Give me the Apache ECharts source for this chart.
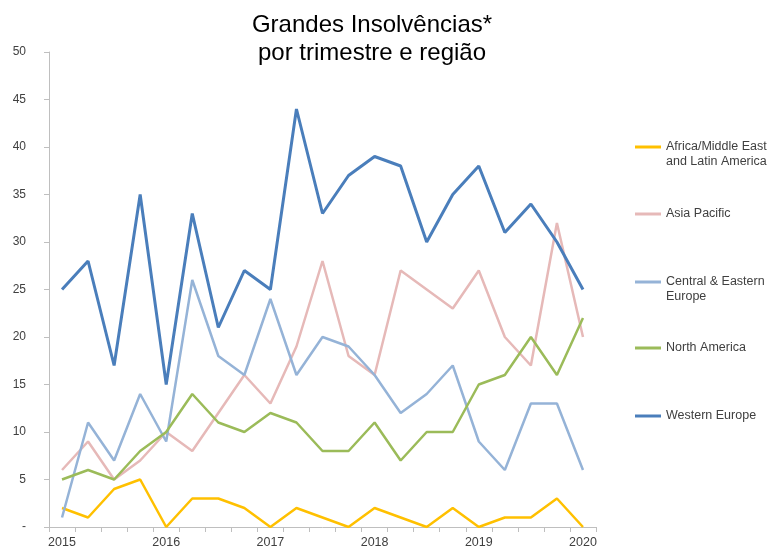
<!DOCTYPE html>
<html>
<head>
<meta charset="utf-8">
<script src="https://cdn.jsdelivr.net/npm/echarts@6/dist/echarts.min.js"></script>
<style>html,body{margin:0;padding:0;background:#fff}#c{width:771px;height:549px}</style>
</head>
<body>
<div id="c"></div>
<script>
// Quarterly categories (2015 T1 .. 2020 T1)
const quarters = [
  '2015 T1','2015 T2','2015 T3','2015 T4',
  '2016 T1','2016 T2','2016 T3','2016 T4',
  '2017 T1','2017 T2','2017 T3','2017 T4',
  '2018 T1','2018 T2','2018 T3','2018 T4',
  '2019 T1','2019 T2','2019 T3','2019 T4',
  '2020 T1'
];
const yTicks = [0, 5, 10, 15, 20, 25, 30, 35, 40, 45, 50];

const seriesNames = [
  'Africa/Middle East\nand Latin America',
  'Asia Pacific',
  'Central & Eastern\nEurope',
  'North America',
  'Western Europe'
];
const africaMELatAm = [2, 1, 4, 5, 0, 3, 3, 2, 0, 2, 1, 0, 2, 1, 0, 2, 0, 1, 1, 3, 0];
const asiaPacific   = [6, 9, 5, 7, 10, 8, 12, 16, 13, 19, 28, 18, 16, 27, 25, 23, 27, 20, 17, 32, 20];
const centralEastEu = [1, 11, 7, 14, 9, 26, 18, 16, 24, 16, 20, 19, 16, 12, 14, 17, 9, 6, 13, 13, 6];
const northAmerica  = [5, 6, 5, 8, 10, 14, 11, 10, 12, 11, 8, 8, 11, 7, 10, 10, 15, 16, 20, 16, 22];
const westernEurope = [25, 28, 17, 35, 15, 33, 21, 27, 25, 44, 33, 37, 39, 38, 30, 35, 38, 31, 34, 30, 25];

const seriesData = [africaMELatAm, asiaPacific, centralEastEu, northAmerica, westernEurope];
const colors = ['#ffc000', '#e6b9b8', '#95b3d7', '#9bbb59', '#4a7ebb'];
const widths = [2.5, 2.5, 2.5, 2.5, 3];
const legendIconY = [147, 214, 282, 348, 416];

const chart = echarts.init(document.getElementById('c'), null, {renderer: 'canvas'});
const FONT = '"Liberation Sans", Arial, sans-serif';
const LEG_LEFT = 635, LEG_W = 26;

const legends = seriesNames.map((n, i) => ({
  data: [n],
  orient: 'vertical',
  left: LEG_LEFT,
  top: legendIconY[i] - 7.5,
  padding: 0,
  icon: 'rect',
  itemWidth: LEG_W,
  itemHeight: 3,
  itemGap: 0,
  selectedMode: false,
  formatter: name => name.split('\n')[0],
  textStyle: {fontFamily: FONT, fontSize: 12.5, color: '#404040', lineHeight: 15}
}));

// continuation lines of two-line legend names
const legendExtra = [];
seriesNames.forEach((n, i) => {
  const parts = n.split('\n');
  if (parts.length > 1) {
    legendExtra.push({
      type: 'text',
      left: LEG_LEFT + LEG_W + 5,
      top: legendIconY[i] + 15 - 7.5,
      silent: true,
      style: {text: parts.slice(1).join('\n'), font: '12.5px ' + FONT, fill: '#404040', lineHeight: 15}
    });
  }
});

const option = {
  animation: false,
  color: colors,
  title: {
    text: 'Grandes Insolvências*\npor trimestre e região',
    left: 372,
    top: 11,
    textAlign: 'center',
    padding: 0,
    textStyle: {fontFamily: FONT, fontSize: 24, fontWeight: 'normal', color: '#000', lineHeight: 28}
  },
  legend: legends,
  graphic: legendExtra,
  grid: {left: 49, right: 175, top: 52, bottom: 22, containLabel: false},
  xAxis: {
    type: 'category',
    data: quarters,
    boundaryGap: true,
    axisLine: {lineStyle: {color: '#bfbfbf', width: 1}},
    axisTick: {show: true, interval: 0, length: 5, lineStyle: {color: '#bfbfbf'}},
    axisLabel: {
      interval: 3, margin: 9,
      fontFamily: FONT, fontSize: 12.5, color: '#404040',
      formatter: v => v.split(' ')[0]
    },
    splitLine: {show: false}
  },
  yAxis: {
    type: 'value',
    min: yTicks[0],
    max: yTicks[yTicks.length - 1],
    interval: yTicks[1] - yTicks[0],
    axisLine: {show: true, lineStyle: {color: '#bfbfbf', width: 1}},
    axisTick: {show: true, length: 5, lineStyle: {color: '#bfbfbf'}},
    axisLabel: {
      margin: 23, fontFamily: FONT, fontSize: 12, color: '#404040',
      formatter: v => (v === 0 ? '-' : String(v))
    },
    splitLine: {show: false}
  },
  series: seriesNames.map((n, i) => ({
    name: n,
    type: 'line',
    data: seriesData[i],
    symbol: 'none',
    showSymbol: false,
    lineStyle: {color: colors[i], width: widths[i]},
    itemStyle: {color: colors[i]},
    z: 2 + i
  }))
};
chart.setOption(option);
</script>
</body>
</html>
